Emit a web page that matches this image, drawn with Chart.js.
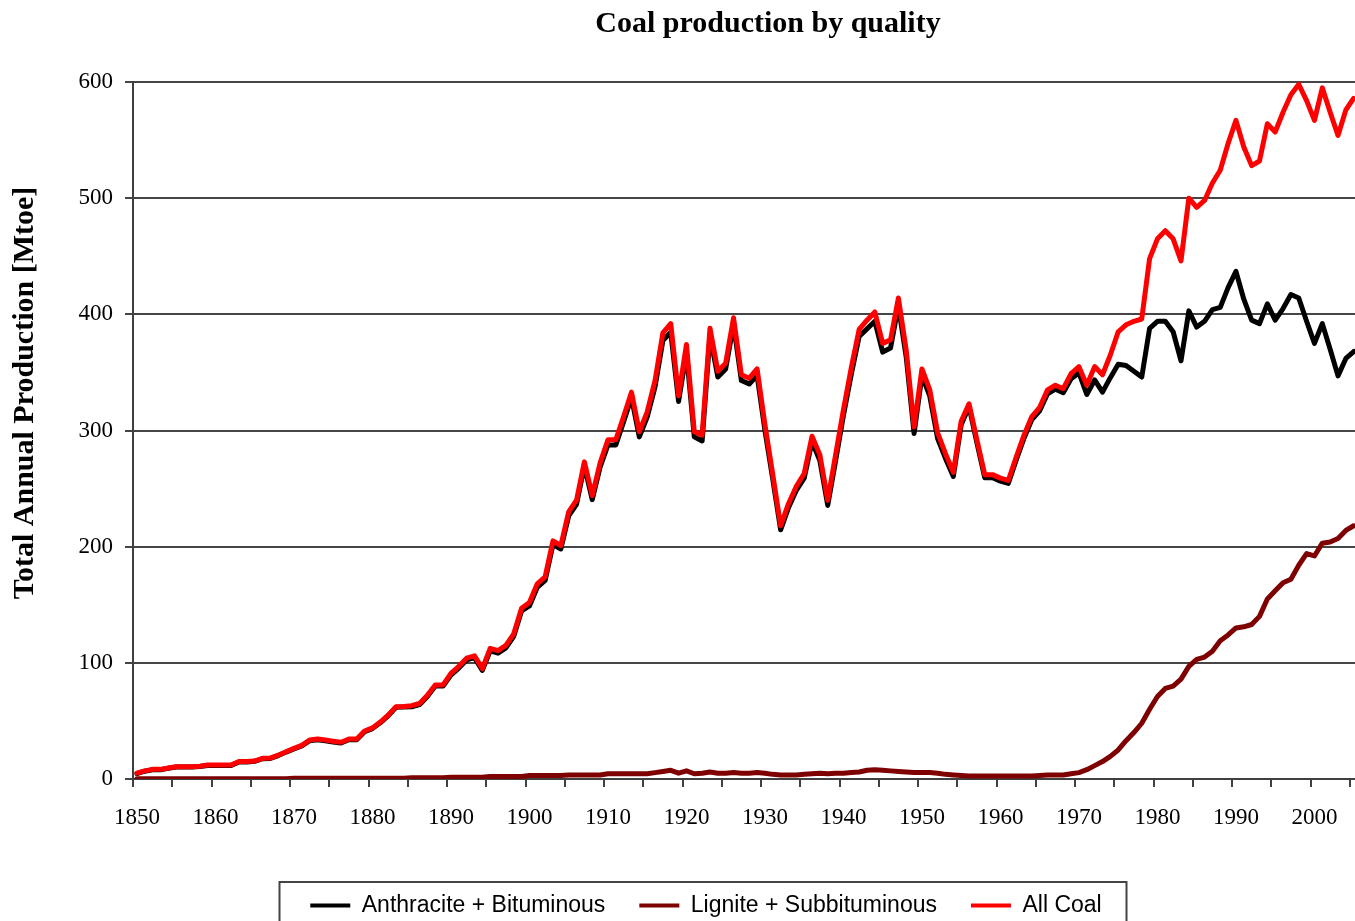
<!DOCTYPE html>
<html>
<head>
<meta charset="utf-8">
<title>Coal production by quality</title>
<script src="https://cdn.jsdelivr.net/npm/chart.js@4.4.1/dist/chart.umd.min.js"></script>
<style>
  html, body { margin: 0; padding: 0; background: #fff; overflow: hidden; }
  #wrap { position: absolute; left: 0; top: 0; width: 1412px; height: 921px; }
</style>
</head>
<body>
<div id="wrap"><canvas id="coalChart"></canvas></div>
<script>
// years on the category axis
const years = [
  1850, 1851, 1852, 1853, 1854, 1855, 1856, 1857, 1858, 1859,
  1860, 1861, 1862, 1863, 1864, 1865, 1866, 1867, 1868, 1869,
  1870, 1871, 1872, 1873, 1874, 1875, 1876, 1877, 1878, 1879,
  1880, 1881, 1882, 1883, 1884, 1885, 1886, 1887, 1888, 1889,
  1890, 1891, 1892, 1893, 1894, 1895, 1896, 1897, 1898, 1899,
  1900, 1901, 1902, 1903, 1904, 1905, 1906, 1907, 1908, 1909,
  1910, 1911, 1912, 1913, 1914, 1915, 1916, 1917, 1918, 1919,
  1920, 1921, 1922, 1923, 1924, 1925, 1926, 1927, 1928, 1929,
  1930, 1931, 1932, 1933, 1934, 1935, 1936, 1937, 1938, 1939,
  1940, 1941, 1942, 1943, 1944, 1945, 1946, 1947, 1948, 1949,
  1950, 1951, 1952, 1953, 1954, 1955, 1956, 1957, 1958, 1959,
  1960, 1961, 1962, 1963, 1964, 1965, 1966, 1967, 1968, 1969,
  1970, 1971, 1972, 1973, 1974, 1975, 1976, 1977, 1978, 1979,
  1980, 1981, 1982, 1983, 1984, 1985, 1986, 1987, 1988, 1989,
  1990, 1991, 1992, 1993, 1994, 1995, 1996, 1997, 1998, 1999,
  2000, 2001, 2002, 2003, 2004, 2005
];

// Mtoe per year
const anthraciteBituminous = [
  4.7, 6.7, 8, 8, 9.2, 10.3, 10.3, 10.3, 10.7, 11.7,
  11.7, 11.7, 11.7, 14.7, 14.7, 15.2, 17.5, 17.7, 20.2, 23.2,
  25.8, 28.4, 33, 33.8, 32.9, 31.9, 31, 33.8, 33.8, 40.7,
  43.4, 48.4, 54.4, 61.7, 61.9, 62.1, 64, 71, 80, 80,
  89.5, 95.5, 102.5, 104.5, 93.5, 110.3, 108.3, 112.8, 122.8, 144.8,
  149, 165, 171, 202, 198, 226.5, 236.5, 269.5, 240.5, 268.5,
  287.5, 287.5, 307.5, 328.5, 294.5, 311.5, 337.5, 377.5, 384.5, 325,
  367, 294.5, 291, 382, 346, 353, 391.5, 343, 340, 347.5,
  300, 258, 214.5, 233.5, 248.5, 259, 290.5, 274, 235.5, 274,
  313, 348.5, 381, 387.5, 394, 367.5, 371, 407.5, 363, 297.5,
  347.5, 329.5, 293, 276, 260.5, 305, 320.4, 289.4, 259.4, 259.4,
  256.4, 254.4, 274.4, 293.4, 309.4, 317, 331.6, 335.6, 332.5, 344.5,
  349.5, 331, 343.5, 333, 345.5, 357, 356, 351, 346, 388,
  394, 394, 385, 360, 403, 389, 394, 404, 406, 423,
  437, 413, 395, 392, 409, 395, 405, 417, 414, 394,
  375, 392, 370, 347, 362, 368
];

const ligniteSubbituminous = [
  0.3, 0.3, 0.3, 0.3, 0.3, 0.3, 0.3, 0.3, 0.3, 0.3,
  0.3, 0.3, 0.3, 0.3, 0.3, 0.3, 0.3, 0.3, 0.3, 0.3,
  0.6, 0.6, 0.6, 0.6, 0.6, 0.6, 0.6, 0.6, 0.6, 0.6,
  0.6, 0.6, 0.6, 0.6, 0.6, 1, 1, 1, 1, 1,
  1.5, 1.5, 1.5, 1.5, 1.5, 2.2, 2.2, 2.2, 2.2, 2.2,
  3, 3, 3, 3, 3, 3.5, 3.5, 3.5, 3.5, 3.5,
  4.5, 4.5, 4.5, 4.5, 4.5, 4.5, 5.5, 6.5, 7.5, 5,
  7, 4.5, 5, 6, 5, 5, 5.5, 5, 5, 5.5,
  5, 4, 3.5, 3.5, 3.5, 4, 4.5, 5, 4.5, 5,
  5, 5.5, 6, 7.5, 8, 7.5, 7, 6.5, 6, 5.5,
  5.5, 5.5, 5, 4, 3.5, 3, 2.6, 2.6, 2.6, 2.6,
  2.6, 2.6, 2.6, 2.6, 2.6, 3, 3.4, 3.4, 3.5, 4.5,
  5.5, 8, 11.5, 15, 19.5, 25, 33, 40, 48, 60,
  71, 78, 80, 86, 97, 103, 105, 110, 119, 124,
  130, 131, 133, 140, 155, 162, 169, 172, 184, 194,
  192, 203, 204, 207, 214, 218
];

const allCoal = [
  5, 7, 8.3, 8.3, 9.5, 10.6, 10.6, 10.6, 11, 12,
  12, 12, 12, 15, 15, 15.5, 17.8, 18, 20.5, 23.5,
  26.4, 29, 33.6, 34.4, 33.5, 32.5, 31.6, 34.4, 34.4, 41.3,
  44, 49, 55, 62.3, 62.5, 63.1, 65, 72, 81, 81,
  91, 97, 104, 106, 95, 112.5, 110.5, 115, 125, 147,
  152, 168, 174, 205, 201, 230, 240, 273, 244, 272,
  292, 292, 312, 333, 299, 316, 343, 384, 392, 330,
  374, 299, 296, 388, 351, 358, 397, 348, 345, 353,
  305, 262, 218, 237, 252, 263, 295, 279, 240, 279,
  318, 354, 387, 395, 402, 375, 378, 414, 369, 303,
  353, 335, 298, 280, 264, 308, 323, 292, 262, 262,
  259, 257, 277, 296, 312, 320, 335, 339, 336, 349,
  355, 339, 355, 348, 365, 385, 391, 394, 396, 448,
  465, 472, 465, 446, 500, 492, 498, 513, 524, 547,
  567, 544, 528, 532, 564, 557, 574, 589, 598, 584,
  567, 595, 574, 554, 576, 586
];

const xTickLabels = ['1850', '1860', '1870', '1880', '1890', '1900', '1910', '1920',
  '1930', '1940', '1950', '1960', '1970', '1980', '1990', '2000'];

const seriesNames = ['Anthracite + Bituminous', 'Lignite + Subbituminous', 'All Coal'];
const seriesColors = ['#000000', '#7f0000', '#ff0000'];

// tick marks sit on the boundaries between years, every 5 years
const tickBounds = years.filter(y => (y - 1850) % 5 === 0).map(y => y - 0.5);
tickBounds.push(2009.5);

// frame drawn round the legend, like the Excel legend box
const legendFrame = {
  id: 'legendFrame',
  afterDraw(chart) {
    const lg = chart.legend;
    if (!lg || !lg.legendHitBoxes || !lg.legendHitBoxes.length) return;
    const hb = lg.legendHitBoxes;
    const left = hb[0].left - 31;
    const right = hb[hb.length - 1].left + hb[hb.length - 1].width + 25;
    const top = lg.top + 22;
    const ctx = chart.ctx;
    ctx.save();
    ctx.strokeStyle = '#444';
    ctx.lineWidth = 2;
    ctx.strokeRect(Math.round(left) + 0.5, Math.round(top), Math.round(right - left), 120);
    ctx.restore();
  }
};

const makeSet = (i, values, order) => ({
  label: seriesNames[i],
  data: values,
  borderColor: seriesColors[i],
  backgroundColor: seriesColors[i],
  borderWidth: 5,
  pointRadius: 0,
  tension: 0,
  borderJoinStyle: 'round',
  borderCapStyle: 'round',
  order: order
});

const ctx = document.getElementById('coalChart').getContext('2d');
new Chart(ctx, {
  type: 'line',
  data: {
    labels: years,
    datasets: [
      makeSet(0, anthraciteBituminous, 1),
      makeSet(1, ligniteSubbituminous, 2),
      makeSet(2, allCoal, 0)
    ]
  },
  plugins: [legendFrame],
  options: {
    responsive: true,
    maintainAspectRatio: false,
    animation: false,
    layout: { padding: { left: 9, right: 9, top: 0, bottom: 0 } },
    font: { family: 'Liberation Serif' },
    plugins: {
      tooltip: { enabled: false },
      title: {
        display: true,
        fullSize: false,
        text: 'Coal production by quality',
        color: '#000',
        font: { family: 'Liberation Serif', size: 30, weight: 'bold' },
        padding: { top: 6, bottom: 40 }
      },
      legend: {
        position: 'bottom',
        maxHeight: 61,
        labels: {
          color: '#000',
          font: { family: 'Liberation Sans', size: 23 },
          boxWidth: 40,
          boxHeight: 4,
          padding: 34,
          sort: (a, b) => a.datasetIndex - b.datasetIndex,
          generateLabels: (chart) => {
            const items = Chart.defaults.plugins.legend.labels.generateLabels(chart);
            items.forEach(it => { it.fillStyle = it.strokeStyle; it.lineWidth = 0; });
            return items;
          }
        }
      }
    },
    scales: {
      x: {
        type: 'linear',
        min: 1849.5,
        max: 2011.28,
        afterBuildTicks: (scale) => { scale.ticks = tickBounds.map(v => ({ value: v })); },
        afterFit: (scale) => { scale.height = 81; },
        grid: { drawOnChartArea: false, drawTicks: true, tickLength: 8, color: '#404040', lineWidth: 2 },
        border: { display: true, color: '#404040', width: 2 },
        ticks: {
          autoSkip: false,
          maxRotation: 0,
          labelOffset: 3.9,
          padding: 17,
          color: '#000',
          font: { family: 'Liberation Serif', size: 23 },
          callback: (value) => {
            const label = String(value + 0.5);
            return xTickLabels.includes(label) ? label : '';
          }
        }
      },
      y: {
        min: 0,
        max: 600,
        afterFit: (scale) => { scale.width = 124; },
        grid: { color: '#454545', lineWidth: 2, tickLength: 8 },
        border: { display: true, color: '#404040', width: 2 },
        ticks: {
          stepSize: 100,
          padding: 12,
          color: '#000',
          font: { family: 'Liberation Serif', size: 23 }
        },
        title: {
          display: true,
          text: '          Total Annual Production [Mtoe]',
          color: '#000',
          font: { family: 'Liberation Serif', size: 30, weight: 'bold', lineHeight: 1 },
          padding: { top: 1, bottom: 0 }
        }
      }
    }
  }
});
</script>
</body>
</html>
